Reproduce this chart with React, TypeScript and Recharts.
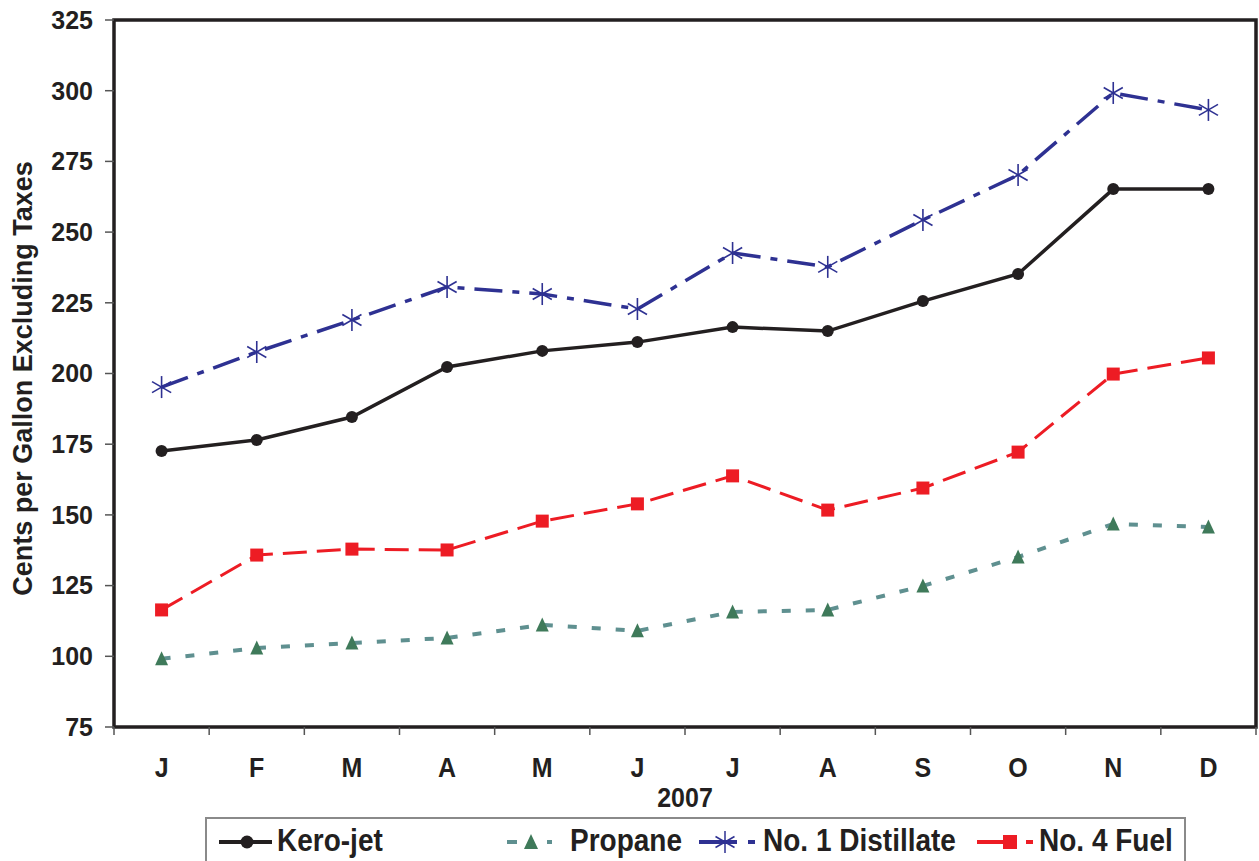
import React from "react"
import {
  LineChart,
  Line,
  XAxis,
  YAxis,
  ReferenceArea,
} from "recharts"

const months = ["J", "F", "M", "A", "M", "J", "J", "A", "S", "O", "N", "D"]
const keroJet = [172.6, 176.5, 184.6, 202.3, 208, 211.1, 216.4, 215, 225.6, 235.2, 265.2, 265.2]
const propane = [99.1, 102.9, 104.7, 106.5, 111.1, 109, 115.7, 116.4, 124.9, 135.1, 146.8, 145.7]
const distillate = [195.2, 207.6, 218.9, 230.6, 228.1, 222.8, 242.6, 237.7, 254.3, 270.2, 299.2, 293.2]
const fuel4 = [116.4, 135.8, 137.9, 137.6, 147.8, 153.9, 163.8, 151.7, 159.5, 172.2, 199.8, 205.5]
const yTicks = [75, 100, 125, 150, 175, 200, 225, 250, 275, 300, 325]

const data = months.map((m, i) => ({
  x: i + 0.5,
  month: m,
  kero: keroJet[i],
  propane: propane[i],
  distillate: distillate[i],
  fuel4: fuel4[i],
}))

// half steps: integers get a tick mark, halves get the month letter
const xTicks: number[] = []
for (let i = 0; i <= 24; i++) xTicks.push(i / 2)

const FONT = "'Liberation Sans', Arial, sans-serif"
const INK = "#231f20"
const BLUE = "#2e3192"
const RED = "#ed1c24"
const TEAL = "#5f9090"
const GREEN = "#3f7a5a"

const MonthTick = (props: any) => {
  const { x, y, payload } = props
  const v = payload.value
  if (Number.isInteger(v)) {
    return <line x1={x} y1={y} x2={x} y2={y + 8} stroke="#555" strokeWidth={1.5} />
  }
  const idx = Math.floor(v)
  return (
    <text
      transform={`translate(${x},${y + 50}) scale(1,1.1)`}
      textAnchor="middle"
      fontFamily={FONT}
      fontWeight="bold"
      fontSize={25}
      fill={INK}
    >
      {months[idx]}
    </text>
  )
}

const YearLabel = (props: any) => {
  const { viewBox } = props
  const cx = viewBox.x + viewBox.width / 2
  return (
    <text
      transform={`translate(${cx},807) scale(1,1.13)`}
      textAnchor="middle"
      fontFamily={FONT}
      fontWeight="bold"
      fontSize={25}
      fill={INK}
    >
      2007
    </text>
  )
}

const YLabel = (props: any) => {
  const { viewBox } = props
  const cy = viewBox.y + viewBox.height / 2 + 5
  return (
    <text
      transform={`translate(22.5,${cy}) rotate(-90)`}
      dy="0.355em"
      textAnchor="middle"
      fontFamily={FONT}
      fontWeight="bold"
      fontSize={27}
      fill={INK}
    >
      Cents per Gallon Excluding Taxes
    </text>
  )
}

const StarDot = (props: any) => {
  const { cx, cy } = props
  if (cx == null || cy == null) return null
  const r = 11
  const dx = r * 0.87
  const dy = r * 0.5
  return (
    <g stroke={BLUE} strokeWidth={1.6}>
      <line x1={cx} y1={cy - r} x2={cx} y2={cy + r} />
      <line x1={cx - dx} y1={cy - dy} x2={cx + dx} y2={cy + dy} />
      <line x1={cx - dx} y1={cy + dy} x2={cx + dx} y2={cy - dy} />
    </g>
  )
}

const SquareDot = (props: any) => {
  const { cx, cy } = props
  if (cx == null || cy == null) return null
  return <rect x={cx - 6.5} y={cy - 6.5} width={13} height={13} fill={RED} />
}

const TriDot = (props: any) => {
  const { cx, cy } = props
  if (cx == null || cy == null) return null
  return <polygon points={`${cx},${cy - 7.5} ${cx - 6.5},${cy + 6.5} ${cx + 6.5},${cy + 6.5}`} fill={GREEN} />
}

const legendText: React.CSSProperties = {
  fontFamily: FONT,
  fontWeight: "bold",
  fontSize: 28,
  lineHeight: "28px",
  color: INK,
  position: "absolute",
  top: 9,
  transform: "scaleY(1.1)",
  transformOrigin: "left bottom",
  whiteSpace: "nowrap",
}

export default function App() {
  return (
    <div style={{ position: "absolute", left: 0, top: 0, width: 1259, height: 861, background: "#fff", overflow: "hidden" }}>
      <LineChart
        width={1259}
        height={861}
        data={data}
        margin={{ top: 20, right: 3, left: 50, bottom: 74 }}
      >
        <XAxis
          dataKey="x"
          type="number"
          domain={[0, 12]}
          ticks={xTicks}
          interval={0}
          axisLine={false}
          tickLine={false}
          tickSize={0}
          tickMargin={0}
          height={60}
          tick={<MonthTick />}
          label={<YearLabel />}
        />
        <YAxis
          type="number"
          domain={[75, 325]}
          ticks={yTicks}
          interval={0}
          width={64}
          axisLine={false}
          tickSize={9}
          tickMargin={12}
          tickLine={{ stroke: "#555", strokeWidth: 1.5 }}
          tick={{ fontFamily: FONT, fontWeight: "bold", fontSize: 25, fill: INK }}
          label={<YLabel />}
        />
        <ReferenceArea x1={0} x2={12} y1={75} y2={325} fill="none" stroke={INK} strokeWidth={3.5} />
        <Line
          dataKey="propane"
          stroke={TEAL}
          strokeWidth={4}
          strokeDasharray="9 15"
          dot={<TriDot />}
          isAnimationActive={false}
        />
        <Line
          dataKey="fuel4"
          stroke={RED}
          strokeWidth={3}
          strokeDasharray="24 10"
          dot={<SquareDot />}
          isAnimationActive={false}
        />
        <Line
          dataKey="kero"
          stroke={INK}
          strokeWidth={3.5}
          dot={{ r: 6, fill: INK, stroke: INK, strokeWidth: 0 }}
          isAnimationActive={false}
        />
        <Line
          dataKey="distillate"
          stroke={BLUE}
          strokeWidth={3.5}
          strokeDasharray="28 10 7 10"
          dot={<StarDot />}
          isAnimationActive={false}
        />
      </LineChart>
      <div
        style={{
          position: "absolute",
          left: 205,
          top: 817,
          width: 977,
          height: 60,
          border: "2px solid #8a8a8a",
          background: "#fff",
        }}
      >
        <svg style={{ position: "absolute", left: 10, top: 11 }} width={60} height={24}>
          <line x1={2} y1={12} x2={55} y2={12} stroke={INK} strokeWidth={4} />
          <circle cx={30} cy={12} r={6.5} fill={INK} />
        </svg>
        <span style={{ ...legendText, left: 70 }}>Kero-jet</span>
        <svg style={{ position: "absolute", left: 298, top: 11 }} width={60} height={24}>
          <line x1={2} y1={12} x2={12} y2={12} stroke={TEAL} strokeWidth={4} />
          <polygon points="26,4 19,19 33,19" fill={GREEN} />
          <line x1={42} y1={12} x2={47} y2={12} stroke={TEAL} strokeWidth={4} />
        </svg>
        <span style={{ ...legendText, left: 363 }}>Propane</span>
        <svg style={{ position: "absolute", left: 490, top: 9 }} width={62} height={28}>
          <line x1={2} y1={14} x2={40} y2={14} stroke={BLUE} strokeWidth={4} />
          <g stroke={BLUE} strokeWidth={1.5}>
            <line x1={28} y1={3} x2={28} y2={25} />
            <line x1={18.5} y1={8.5} x2={37.5} y2={19.5} />
            <line x1={18.5} y1={19.5} x2={37.5} y2={8.5} />
          </g>
          <line x1={51} y1={14} x2={58} y2={14} stroke={BLUE} strokeWidth={4} />
        </svg>
        <span style={{ ...legendText, left: 556 }}>No. 1 Distillate</span>
        <svg style={{ position: "absolute", left: 768, top: 11 }} width={62} height={24}>
          <line x1={2} y1={12} x2={34} y2={12} stroke={RED} strokeWidth={4} />
          <rect x={28} y={5} width={14} height={14} fill={RED} />
          <line x1={51} y1={12} x2={58} y2={12} stroke={RED} strokeWidth={4} />
        </svg>
        <span style={{ ...legendText, left: 832 }}>No. 4 Fuel</span>
      </div>
    </div>
  )
}
